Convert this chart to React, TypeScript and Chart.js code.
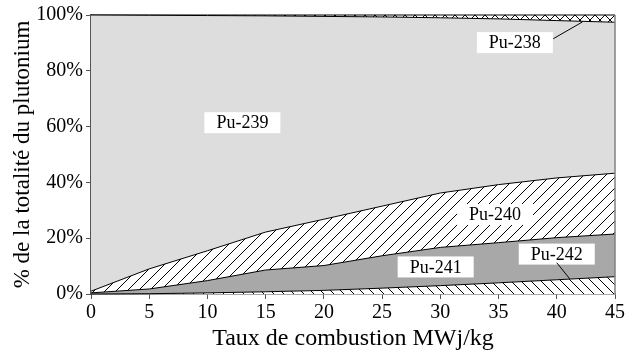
import { useEffect, useRef } from "react";
import { Chart, registerables } from "chart.js";

Chart.register(...registerables);

// Burn-up (MWj/kg) and isotope shares (% of total plutonium), bottom layer first
const burnup = [0, 5, 10, 15, 20, 25, 30, 35, 40, 45];
const pu242 = [0, 0.1, 0.4, 0.8, 1.3, 2.1, 3.0, 4.0, 5.1, 6.2];
const pu241 = [0.4, 1.7, 4.4, 7.8, 8.9, 11.6, 13.7, 14.4, 15.1, 15.3];
const pu240 = [0.6, 7.2, 10.7, 13.6, 16.6, 17.8, 19.5, 20.8, 21.4, 21.8];
const pu239 = [99.0, 90.9, 84.3, 77.5, 72.7, 67.8, 62.8, 59.4, 56.4, 54.1];
const pu238 = [0, 0.1, 0.2, 0.3, 0.5, 0.7, 1.0, 1.4, 2.0, 2.6];

const yTicks = [0, 20, 40, 60, 80, 100];
const xTicks = [0, 5, 10, 15, 20, 25, 30, 35, 40, 45];

// Isotope labels (data coordinates) and optional leader lines
const labelNames = ["Pu-239", "Pu-238", "Pu-240", "Pu-241", "Pu-242"];
const labelX = [13.0, 36.4, 34.7, 29.6, 40.0];
const labelY = [61.4, 90.1, 28.5, 9.7, 14.3];
const leaderFrom: (number[] | null)[] = [null, [39.7, 91.5], null, null, [40.0, 11.2]];
const leaderTo: (number[] | null)[] = [null, [42.2, 97.5], null, null, [41.1, 5.5]];

const SERIF = "'Liberation Serif', 'Times New Roman', 'DejaVu Serif', serif";

function hatch(kind: "fwd" | "back" | "cross", size: number): CanvasPattern | string {
  const c = document.createElement("canvas");
  c.width = size;
  c.height = size;
  const g = c.getContext("2d");
  if (!g) return "#fff";
  g.fillStyle = "#fff";
  g.fillRect(0, 0, size, size);
  g.strokeStyle = "#000";
  g.lineWidth = 1;
  const fwd = () => {
    g.beginPath();
    g.moveTo(-1, size + 1);
    g.lineTo(size + 1, -1);
    g.moveTo(-2, 2);
    g.lineTo(2, -2);
    g.moveTo(size - 2, size + 2);
    g.lineTo(size + 2, size - 2);
    g.stroke();
  };
  const back = () => {
    g.beginPath();
    g.moveTo(-1, -1);
    g.lineTo(size + 1, size + 1);
    g.moveTo(size - 2, -2);
    g.lineTo(size + 2, 2);
    g.moveTo(-2, size - 2);
    g.lineTo(2, size + 2);
    g.stroke();
  };
  if (kind === "fwd" || kind === "cross") fwd();
  if (kind === "back" || kind === "cross") back();
  return g.createPattern(c, "repeat") || "#fff";
}

const labelsPlugin = {
  id: "isotopeLabels",
  afterDatasetsDraw(chart: any) {
    const { ctx, chartArea, scales } = chart;
    const xs = scales.x;
    const ys = scales.y;
    ctx.save();
    // right-hand frame edge
    ctx.strokeStyle = "#808080";
    ctx.lineWidth = 1.5;
    ctx.beginPath();
    ctx.moveTo(chartArea.right, chartArea.top);
    ctx.lineTo(chartArea.right, chartArea.bottom);
    ctx.stroke();

    ctx.font = `18px ${SERIF}`;
    ctx.textAlign = "center";
    ctx.textBaseline = "middle";
    labelNames.forEach((name, i) => {
      const cx = xs.getPixelForValue(labelX[i]);
      const cy = ys.getPixelForValue(labelY[i]);
      const w = 76;
      const h = 21;
      ctx.fillStyle = "#fff";
      ctx.fillRect(cx - w / 2, cy - h / 2, w, h);
      ctx.fillStyle = "#000";
      ctx.fillText(name, cx, cy + 1);
      const a = leaderFrom[i];
      const b = leaderTo[i];
      if (a && b) {
        ctx.strokeStyle = "#000";
        ctx.lineWidth = 1;
        ctx.beginPath();
        ctx.moveTo(xs.getPixelForValue(a[0]), ys.getPixelForValue(a[1]));
        ctx.lineTo(xs.getPixelForValue(b[0]), ys.getPixelForValue(b[1]));
        ctx.stroke();
      }
    });
    ctx.restore();
  },
};

export default function App() {
  const ref = useRef<HTMLCanvasElement>(null);

  useEffect(() => {
    document.body.style.margin = "0";
    let chart: Chart | null = null;
    let cancelled = false;

    const build = () => {
      if (cancelled || !ref.current) return;
      const mk = (values: number[]) => values.map((v, i) => ({ x: burnup[i], y: v }));
      const common = {
        borderColor: "#000",
        borderWidth: 1,
        pointRadius: 0,
        tension: 0,
        clip: false as const,
      };
      chart = new Chart(ref.current, {
        type: "line",
        data: {
          datasets: [
            { label: "Pu-242", data: mk(pu242), backgroundColor: hatch("back", 10), fill: "origin", ...common },
            { label: "Pu-241", data: mk(pu241), backgroundColor: "#a8a8a8", fill: "-1", ...common },
            { label: "Pu-240", data: mk(pu240), backgroundColor: hatch("fwd", 11), fill: "-1", ...common },
            { label: "Pu-239", data: mk(pu239), backgroundColor: "#dddddd", fill: "-1", ...common },
            { label: "Pu-238", data: mk(pu238), backgroundColor: hatch("cross", 10), fill: "-1", ...common },
          ],
        },
        options: {
          animation: false,
          responsive: true,
          maintainAspectRatio: false,
          layout: { padding: { top: 11, right: 13, left: 0, bottom: 0 } },
          plugins: { legend: { display: false }, tooltip: { enabled: false } },
          scales: {
            x: {
              type: "linear",
              min: 0,
              max: 45,
              afterBuildTicks: (s: any) => {
                s.ticks = xTicks.map((v) => ({ value: v }));
              },
              afterFit: (s: any) => {
                s.height = 62;
              },
              grid: { drawOnChartArea: false, drawTicks: true, tickLength: 5, color: "#555" },
              border: { color: "#555", width: 1.5 },
              ticks: { color: "#000", padding: 2, font: { family: SERIF, size: 20 }, maxRotation: 0 },
              title: {
                display: true,
                text: "Taux de combustion MWj/kg",
                color: "#000",
                font: { family: SERIF, size: 24 },
                padding: { top: 0, bottom: 3 },
              },
            },
            y: {
              stacked: true,
              min: 0,
              max: 100,
              afterBuildTicks: (s: any) => {
                s.ticks = yTicks.map((v) => ({ value: v }));
              },
              afterFit: (s: any) => {
                s.width = 91;
              },
              grid: { drawOnChartArea: false, drawTicks: true, tickLength: 5, color: "#555" },
              border: { color: "#555", width: 1.5 },
              ticks: {
                color: "#000",
                padding: 3,
                font: { family: SERIF, size: 20 },
                callback: (v: any) => `${v}%`,
              },
              title: {
                display: true,
                text: "% de la totalité du plutonium",
                color: "#000",
                font: { family: SERIF, size: 23 },
                padding: { top: 9, bottom: 0 },
              },
            },
          },
        },
        plugins: [labelsPlugin],
      });
    };

    const fonts = (document as any).fonts;
    if (fonts && fonts.load) {
      Promise.all([fonts.load("20px 'Liberation Serif'"), fonts.load("20px 'DejaVu Serif'")])
        .catch(() => undefined)
        .then(build);
    } else {
      build();
    }

    return () => {
      cancelled = true;
      if (chart) chart.destroy();
    };
  }, []);

  return (
    <div style={{ position: "relative", width: 628, height: 356 }}>
      <span style={{ position: "absolute", left: -9999, fontFamily: "'Liberation Serif'" }}>Pu</span>
      <canvas ref={ref} />
    </div>
  );
}
